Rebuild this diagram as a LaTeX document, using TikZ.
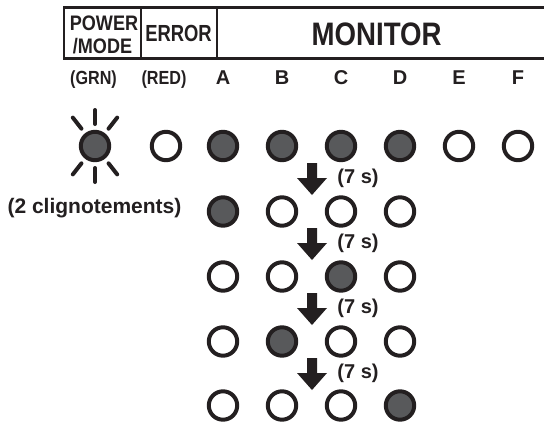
\documentclass[tikz,border=0pt]{standalone}
\usepackage{fontspec}
\setmainfont{Liberation Sans}[BoldFont={Liberation Sans Bold}]
\usepackage{graphicx}
\definecolor{ink}{HTML}{231F20}
\definecolor{ledon}{HTML}{58595B}
\tikzset{
  led/.style={circle, draw=ink, line width=4pt, minimum size=28.4pt, inner sep=0pt},
  ledon/.style={led, fill=ledon},
  ledoff/.style={led, fill=white},
  ray/.style={draw=ink, line width=4pt, line cap=round},
  txt/.style={anchor=base, inner sep=0pt, text=ink},
  frameline/.style={draw=ink, line width=2.6pt},
  divline/.style={draw=ink, line width=1.2pt},
  downarrow/.pic={\fill[ink] (-5,-16) -- (5,-16) -- (5,-1) -- (15,-1) -- (0,16) -- (-15,-1) -- (-5,-1) -- cycle;}
}
\newcommand{\fs}[1]{\fontsize{#1}{#1}\selectfont\bfseries}
\begin{document}
\begin{tikzpicture}[x=1pt,y=-1pt]
\useasboundingbox (0,0) rectangle (544,421);
% header frame
\coordinate (hTL) at (64,7.5);
\coordinate (hBL) at (64,58.5);
\coordinate (hTR) at (548,7.5);
\coordinate (hBR) at (548,58.5);
\draw[frameline] (hTR) -- (hTL) -- (hBL) -- (hBR);
\coordinate (d1t) at (141,7.5); \coordinate (d1b) at (141,58.5);
\coordinate (d2t) at (217,7.5); \coordinate (d2b) at (217,58.5);
\draw[divline] (d1t) -- (d1b) (d2t) -- (d2b);
% header texts
\node[txt] (power) at (104,30) {\fs{21}\scalebox{0.86}[1]{POWER}};
\node[txt] (mode) at (102.5,53) {\fs{21}\scalebox{0.86}[1]{/MODE}};
\node[txt] (error) at (178.5,41.7) {\fs{23.3}\scalebox{0.79}[1]{ERROR}};
\node[txt] (monitor) at (376.7,45) {\fs{32.5}\scalebox{0.85}[1]{MONITOR}};
% column labels
\node[txt] (lgrn) at (93.5,84) {\fs{19}\scalebox{0.85}[1]{(GRN)}};
\node[txt] (lred) at (164,84) {\fs{19}\scalebox{0.85}[1]{(RED)}};
\node[txt] (la) at (223,84) {\fs{20}A};
\node[txt] (lb) at (282,84) {\fs{20}B};
\node[txt] (lc) at (341,84) {\fs{20}C};
\node[txt] (ld) at (400,84) {\fs{20}D};
\node[txt] (le) at (459,84) {\fs{20}E};
\node[txt] (lf) at (518,84) {\fs{20}F};
% row 1
\node[ledon] (g1) at (95,146) {};
\node[ledoff] (r1) at (166,146) {};
\node[ledon] (a1) at (223,146) {};
\node[ledon] (b1) at (282,146) {};
\node[ledon] (c1) at (341,146) {};
\node[ledon] (dd1) at (400,146) {};
\node[ledoff] (e1) at (459,146) {};
\node[ledoff] (f1) at (518,146) {};
\foreach \a in {52,90,128,232,270,308}
  \draw[ray] ([shift={(\a:22)}]g1.center) -- ([shift={(\a:36)}]g1.center);
\node[txt] (blink) at (94.5,213) {\fs{21}(2 clignotements)};
% row 2
\node[ledon] (a2) at (223,211.5) {};
\node[ledoff] (b2) at (282,211.5) {};
\node[ledoff] (c2) at (341,211.5) {};
\node[ledoff] (dd2) at (400,211.5) {};
% row 3
\node[ledoff] (a3) at (223,276.5) {};
\node[ledoff] (b3) at (282,276.5) {};
\node[ledon] (c3) at (341,276.5) {};
\node[ledoff] (dd3) at (400,276.5) {};
% row 4
\node[ledoff] (a4) at (223,341.5) {};
\node[ledon] (b4) at (282,341.5) {};
\node[ledoff] (c4) at (341,341.5) {};
\node[ledoff] (dd4) at (400,341.5) {};
% row 5
\node[ledoff] (a5) at (223,405.5) {};
\node[ledoff] (b5) at (282,405.5) {};
\node[ledoff] (c5) at (341,405.5) {};
\node[ledon] (dd5) at (400,405.5) {};
% arrows and delays
\foreach \k/\y in {1/179,2/244,3/309,4/374}{
  \pic (arr\k) at (312,\y) {downarrow};
  \node[txt] (t\k) at (358,\y+4.5) {\fs{20}(7 s)};
}
\end{tikzpicture}
\end{document}
